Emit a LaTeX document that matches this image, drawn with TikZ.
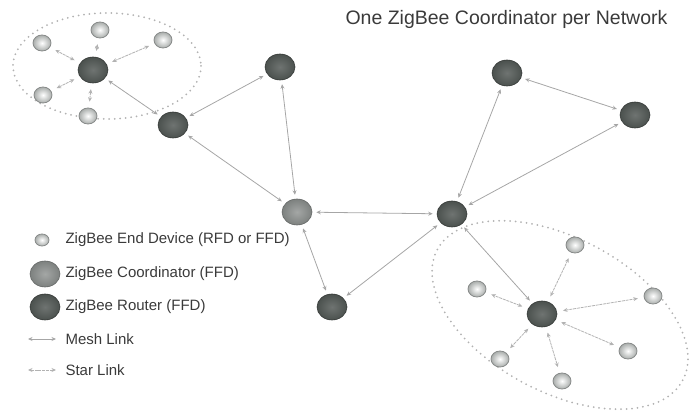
\documentclass[tikz,border=0pt]{standalone}
\usepackage{fontspec}
\setmainfont{Liberation Sans}
\usepackage{tikz}
\usetikzlibrary{shapes.geometric,arrows.meta}

\definecolor{routercol}{HTML}{4B514E}
\definecolor{coordcol}{HTML}{7D817F}
\definecolor{endcol}{HTML}{A9ADAB}
\definecolor{textcol}{HTML}{3A3A3A}

\begin{document}
\begin{tikzpicture}[x=1pt, y=-1pt,
    router/.style={ellipse, minimum width=30pt, minimum height=26pt, inner sep=0pt,
        shading=radial, inner color=routercol!80!white, outer color=routercol, draw=routercol!70!black, line width=0.6pt},
    coord/.style={ellipse, minimum width=30pt, minimum height=26pt, inner sep=0pt,
        shading=radial, inner color=coordcol!70!white, outer color=coordcol, draw=coordcol!80!black, line width=0.6pt},
    enddev/.style={ellipse, minimum width=18pt, minimum height=16pt, inner sep=0pt,
        shading=radial, inner color=white, outer color=endcol, draw=endcol!80!black, line width=0.8pt},
    link/.style={<->, >={Stealth[length=4.5pt,width=4pt]}, draw=gray!70, line width=0.8pt,
        shorten >=4pt, shorten <=4pt},
    starlink/.style={link, draw=gray!60, dash pattern=on 3pt off 0.8pt, shorten >=6pt, shorten <=6pt},
    region/.style={draw=gray!60, line width=2pt, line cap=round, dash pattern=on 0pt off 5.5pt},
    legtext/.style={anchor=west, text=textcol, font=\fontsize{15}{18}\selectfont}]
    \useasboundingbox (0,0) rectangle (689,411);

    % title
    \node[anchor=west, text=textcol, font=\fontsize{19.5}{22}\selectfont] (title) at (342,19) {One ZigBee Coordinator per Network};

    % star network regions
    \draw[region] (107,66) ellipse [x radius=94, y radius=53];
    \draw[region, rotate around={-28:(560,315)}] (560,315) ellipse [x radius=139, y radius=77];

    % routers and coordinator
    \node[router] (rA) at (93,70) {};
    \node[router] (rB) at (173,125) {};
    \node[router] (rC) at (280,67) {};
    \node[coord]  (co) at (297,212) {};
    \node[router] (rD) at (452,214) {};
    \node[router] (rE) at (332,307) {};
    \node[router] (rF) at (507,73) {};
    \node[router] (rG) at (635,115) {};
    \node[router] (rH) at (542,314) {};

    % end devices
    \node[enddev] (eA1) at (100,30) {};
    \node[enddev] (eA2) at (42,43) {};
    \node[enddev] (eA3) at (163,40) {};
    \node[enddev] (eA4) at (43,95) {};
    \node[enddev] (eA5) at (88,116) {};
    \node[enddev] (eH1) at (575,245) {};
    \node[enddev] (eH2) at (477,289) {};
    \node[enddev] (eH3) at (653,296) {};
    \node[enddev] (eH4) at (628,351) {};
    \node[enddev] (eH5) at (500,359) {};
    \node[enddev] (eH6) at (562,381) {};

    % mesh links
    \draw[link] (rA) -- (rB);
    \draw[link] (rB) -- (rC);
    \draw[link] (rB) -- (co);
    \draw[link] (rC) -- (co);
    \draw[link] (co) -- (rD);
    \draw[link] (co) -- (rE);
    \draw[link] (rE) -- (rD);
    \draw[link] (rD) -- (rF);
    \draw[link] (rD) -- (rG);
    \draw[link] (rF) -- (rG);
    \draw[link] (rD) -- (rH);

    % star links
    \foreach \e in {eA1,eA2,eA3,eA4,eA5}
        \draw[starlink] (rA) -- (\e);
    \foreach \e in {eH1,eH2,eH3,eH4,eH5,eH6}
        \draw[starlink] (rH) -- (\e);

    % legend
    \node[enddev, minimum width=14pt, minimum height=12pt] (lgE) at (42,240) {};
    \node[coord] (lgC) at (45,274) {};
    \node[router] (lgR) at (45,307) {};
    \coordinate (lgM1) at (28,339);
    \coordinate (lgM2) at (56,339);
    \coordinate (lgS1) at (28,370);
    \coordinate (lgS2) at (56,370);
    \draw[link, shorten >=0pt, shorten <=0pt] (lgM1) -- (lgM2);
    \draw[starlink, shorten >=0pt, shorten <=0pt] (lgS1) -- (lgS2);
    \node[legtext] (lgEtext) at (62,240) {ZigBee End Device (RFD or FFD)};
    \node[legtext] (lgCtext) at (62,274) {ZigBee Coordinator (FFD)};
    \node[legtext] (lgRtext) at (62,307) {ZigBee Router (FFD)};
    \node[legtext] (lgMtext) at (62,339) {Mesh Link};
    \node[legtext] (lgStext) at (62,370) {Star Link};

\end{tikzpicture}
\end{document}
